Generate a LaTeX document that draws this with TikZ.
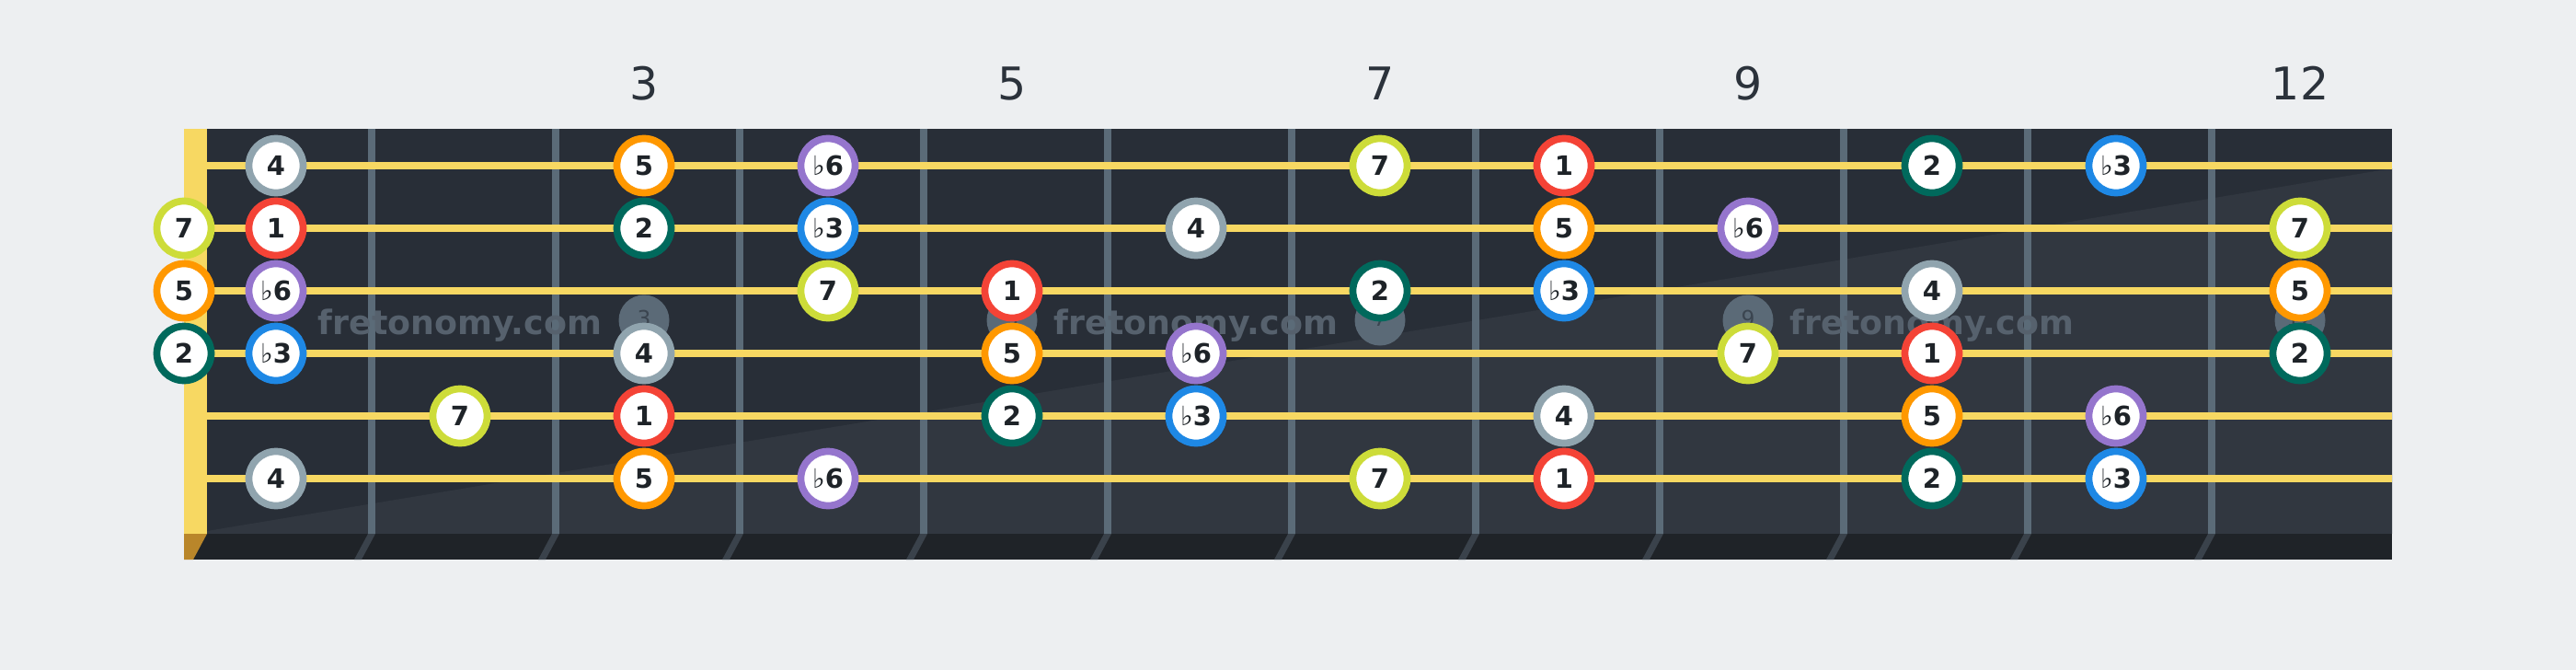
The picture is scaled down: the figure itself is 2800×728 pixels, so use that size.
\documentclass[tikz,border=0pt]{standalone}
\usepackage{fontspec}
\setmainfont{DejaVu Sans}
\definecolor{bgc}{HTML}{EDEFF1}
\definecolor{boardc}{HTML}{282E37}
\definecolor{boardlight}{HTML}{313740}
\definecolor{fretc}{HTML}{5B6B78}
\definecolor{stripc}{HTML}{1F2328}
\definecolor{stripfret}{HTML}{3A424B}
\definecolor{stringc}{HTML}{F7D862}
\definecolor{nutstrip}{HTML}{B9862A}
\definecolor{wmc}{HTML}{56616D}
\definecolor{inlayc}{HTML}{5B6A77}
\definecolor{inlaytext}{HTML}{3B4550}
\definecolor{labeltext}{HTML}{2B323B}
\definecolor{notetext}{HTML}{1E2328}
\definecolor{cred}{HTML}{F44336}
\definecolor{cgreen}{HTML}{00695C}
\definecolor{cblue}{HTML}{1E88E5}
\definecolor{cgray}{HTML}{90A4AE}
\definecolor{corange}{HTML}{FF9800}
\definecolor{cpurple}{HTML}{9575CD}
\definecolor{clime}{HTML}{CDDC39}
\newcommand\flt{{\mdseries ♭}}
\begin{document}
\begin{tikzpicture}[x=0.5pt,y=-0.5pt,
  note/.style={circle, draw=#1, fill=white, line width=3.85pt, minimum size=29.5pt, inner sep=0pt,
    font=\fontsize{14.5}{14.5}\selectfont\bfseries, text=notetext},
  wm/.style={anchor=base, font=\fontsize{18.2}{18.2}\selectfont\bfseries, text=wmc, inner sep=0pt},
  inlay/.style={circle, fill=inlayc, minimum size=27.5pt, inner sep=0pt},
  inlaylbl/.style={anchor=base, font=\fontsize{11.7}{11.7}\selectfont, text=inlaytext, inner sep=0pt},
  fretnum/.style={anchor=base, font=\fontsize{24.5}{24.5}\selectfont, text=labeltext, inner sep=0pt}]
\useasboundingbox (0,0) rectangle (2800,728);
\fill[bgc] (0,0) rectangle (2800,728);
% board
\fill[boardc] (200,140) rectangle (2600,580);
\fill[boardlight] (225,577) -- (2600,183) -- (2600,580) -- (225,580) -- cycle;
% frets
\foreach \i in {1,...,11} \fill[fretc] ({200+200*\i},140) rectangle ++(8,440);
% bottom strip
\fill[stripc] (200,580) rectangle (2600,608);
\foreach \i in {1,...,11} \fill[stripfret] ({200+200*\i},580) -- ++(8,0) -- ++(-15,28) -- ++(-8,0) -- cycle;
\fill[nutstrip] (200,580) -- (225,580) -- (210,608) -- (200,608) -- cycle;
% strings
\foreach \s in {1,...,6} \fill[stringc] (225,{176+68*(\s-1)}) rectangle (2600,{184+68*(\s-1)});
% nut
\fill[stringc] (200,140) rectangle (225,580);
% watermark
\foreach \x in {500,1300,2100} \node[wm] (wm\x) at (\x,363) {fretonomy.com};
% inlays
\foreach \f in {3,5,7,9,12} {
  \node[inlay] (inlay\f) at ({100+200*\f},348) {};
  \node[inlaylbl] (inlaylbl\f) at ({100+200*\f},354) {\f};
}
% fret numbers
\foreach \f in {3,5,7,9,12} \node[fretnum] (fretnum\f) at ({100+200*\f},108) {\f};
% notes
\foreach \s/\f/\l/\c in {
  1/1/4/cgray, 1/3/5/corange, 1/4/\flt6/cpurple, 1/7/7/clime, 1/8/1/cred, 1/10/2/cgreen, 1/11/\flt3/cblue,
  2/0/7/clime, 2/1/1/cred, 2/3/2/cgreen, 2/4/\flt3/cblue, 2/6/4/cgray, 2/8/5/corange, 2/9/\flt6/cpurple, 2/12/7/clime,
  3/0/5/corange, 3/1/\flt6/cpurple, 3/4/7/clime, 3/5/1/cred, 3/7/2/cgreen, 3/8/\flt3/cblue, 3/10/4/cgray, 3/12/5/corange,
  4/0/2/cgreen, 4/1/\flt3/cblue, 4/3/4/cgray, 4/5/5/corange, 4/6/\flt6/cpurple, 4/9/7/clime, 4/10/1/cred, 4/12/2/cgreen,
  5/2/7/clime, 5/3/1/cred, 5/5/2/cgreen, 5/6/\flt3/cblue, 5/8/4/cgray, 5/10/5/corange, 5/11/\flt6/cpurple,
  6/1/4/cgray, 6/3/5/corange, 6/4/\flt6/cpurple, 6/7/7/clime, 6/8/1/cred, 6/10/2/cgreen, 6/11/\flt3/cblue}
  \node[note=\c] (n-\s-\f) at ({200*\f+100+100*(\f==0)},{180+68*(\s-1)}) {\l};
\end{tikzpicture}
\end{document}
